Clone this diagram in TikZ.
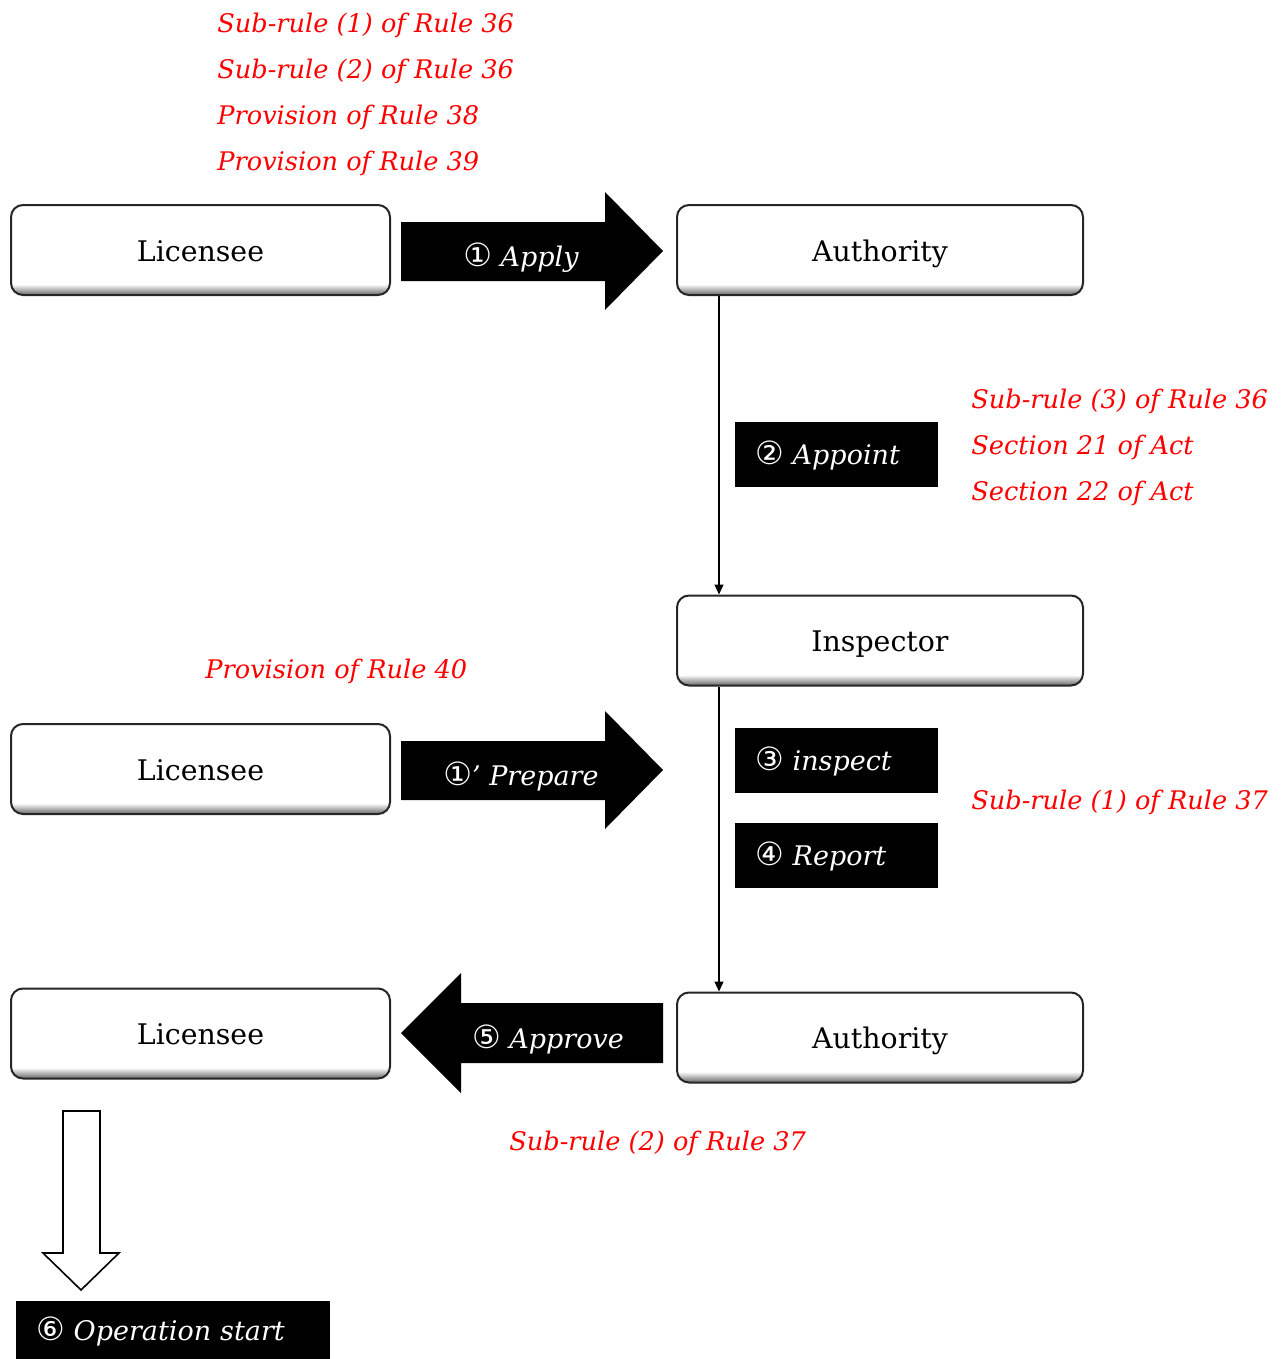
\documentclass[tikz,border=0pt]{standalone}
\usepackage{fontspec}
\setmainfont{DejaVu Serif}
\newfontfamily\circfont{DejaVu Sans}
\usetikzlibrary{arrows.meta}
\newcommand{\cnum}[1]{{\circfont\itshape\fontsize{16}{16}\selectfont #1}}
% soft grey band along the lower edge of each rounded box
\pgfdeclareverticalshading{boxshade}{100bp}{color(0bp)=(black!60); color(25bp)=(black!60); color(31bp)=(white); color(100bp)=(white)}
\tikzset{
  roundbox/.style={draw=black!85, line width=1pt, rounded corners=6pt,
    shading=boxshade, minimum width=#1, minimum height=45pt,
    text height=13pt, text depth=1.6pt,
    font=\fontsize{14.2}{16}\selectfont, text=black},
  roundbox/.default=189.5pt,
  tagbox/.style={fill=black, text=white, minimum height=32.5pt, inner xsep=10pt,
    text width=#1, align=left, text height=11pt, text depth=1pt,
    font=\fontsize{13.5}{15}\selectfont\itshape},
  tagbox/.default=81.5pt,
  blockarrow/.style={fill=black, draw=none},
  arrowlabel/.style={text=white, font=\fontsize{13.5}{15}\selectfont\itshape, inner sep=0pt,
    text height=11pt, text depth=1pt},
  rule/.style={text=red, anchor=west, inner sep=0pt, font=\fontsize{12.8}{14}\selectfont\itshape},
  link/.style={draw=black, line width=0.6pt, -{Triangle[length=5pt,width=4.5pt]}}
}
\begin{document}
\begin{tikzpicture}[x=0.5pt,y=-0.5pt]
\useasboundingbox (0,0) rectangle (1283,1359);

% rule references, top block
\node[rule] (r1) at (217,25) {Sub-rule (1) of Rule 36};
\node[rule] (r2) at (217,71) {Sub-rule (2) of Rule 36};
\node[rule] (r3) at (217,117) {Provision of Rule 38};
\node[rule] (r4) at (217,163) {Provision of Rule 39};

% first row
\node[roundbox] (lic1) at (200.5,250) {Licensee};
\node[roundbox=203pt] (auth1) at (880,250) {Authority};
\fill[blockarrow] (401,222) -- (605,222) -- (605,192) -- (663,251) -- (605,310) -- (605,281) -- (401,281) -- cycle;
\node[arrowlabel] (apply) at (521,256) {\cnum{①} Apply};

% appointment of the inspector
\node[tagbox] (appoint) at (836.5,454.5) {\cnum{②} Appoint};
\node[rule] (r5) at (971,401) {Sub-rule (3) of Rule 36};
\node[rule] (r6) at (971,447) {Section 21 of Act};
\node[rule] (r7) at (971,493) {Section 22 of Act};

\node[roundbox=203pt] (insp) at (880,640.5) {Inspector};
\draw[link] ([xshift=21.5pt]auth1.south west) -- ([xshift=21.5pt]insp.north west);

% preparation
\node[rule] (r8) at (205,671) {Provision of Rule 40};
\node[roundbox] (lic2) at (200.5,769) {Licensee};
\fill[blockarrow] (401,741) -- (605,741) -- (605,711) -- (663,770) -- (605,829) -- (605,800) -- (401,800) -- cycle;
\node[arrowlabel] (prepare) at (521,775) {\cnum{①}’ Prepare};

% inspection and report
\node[tagbox] (inspect) at (836.5,760.5) {\cnum{③} inspect};
\node[tagbox] (report) at (836.5,855.5) {\cnum{④} Report};
\node[rule] (r9) at (971,802) {Sub-rule (1) of Rule 37};

% approval
\node[roundbox=203pt] (auth2) at (880,1037.5) {Authority};
\draw[link] ([xshift=21.5pt]insp.south west) -- ([xshift=21.5pt]auth2.north west);
\node[roundbox] (lic3) at (200.5,1033.5) {Licensee};
\fill[blockarrow] (663,1003) -- (461,1003) -- (461,973) -- (401,1033) -- (461,1093) -- (461,1063) -- (663,1063) -- cycle;
\node[arrowlabel] (approve) at (548,1038) {\cnum{⑤} Approve};
\node[rule] (r10) at (509,1143) {Sub-rule (2) of Rule 37};

% start of operation
\draw[line width=0.8pt, fill=white] (63,1111) -- (100,1111) -- (100,1253) -- (119,1253) -- (81,1290) -- (43,1253) -- (63,1253) -- cycle;
\node[tagbox=137pt, minimum height=29pt] (start) at (173,1330) {\cnum{⑥} Operation start};
\end{tikzpicture}
\end{document}
